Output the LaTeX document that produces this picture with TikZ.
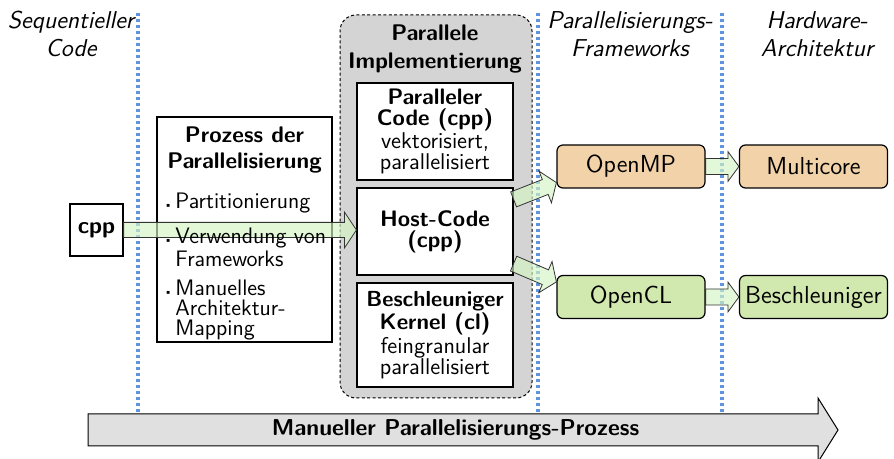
\documentclass[tikz,border=0pt]{standalone}
\usepackage{fontspec}
\usetikzlibrary{calc}
\definecolor{dotblue}{HTML}{5F95E0}
\definecolor{arrgreen}{HTML}{D3F5C3}
\definecolor{ompfill}{HTML}{F2D3A9}
\definecolor{oclfill}{HTML}{D1E8AE}
\definecolor{grpfill}{HTML}{D4D4D4}
\definecolor{bigfill}{HTML}{E0E0E0}
\newcommand\fatarrow[6][]{%
  \coordinate (fah) at ($(#3)!#6!(#2)$);
  \draw[fatarr,#1] ($(#2)!#4!90:(#3)$) -- ($(fah)!#4!90:(#3)$) -- ($(fah)!#5!90:(#3)$) -- (#3) -- ($(fah)!#5!-90:(#3)$) -- ($(fah)!#4!-90:(#3)$) -- ($(#2)!#4!-90:(#3)$) -- cycle;
}
\newcommand\rg{\fontsize{11.4}{10.5}\selectfont}
\newcommand\bd{\bfseries\fontsize{11.2}{10.5}\selectfont}
\tikzset{
  fatarr/.style={draw=black!80, line width=0.4pt, fill=arrgreen, fill opacity=0.65, line join=miter},
  sepline/.style={dotblue, line width=1.7pt, dash pattern=on 1.5pt off 1.5pt},
  collabel/.style={font=\sffamily\itshape\fontsize{12.2}{14}\selectfont, align=center},
  plainbox/.style={draw, line width=0.6pt, fill=white, inner sep=1pt, align=center, font=\sffamily\rg},
  fwbox/.style={draw, line width=0.6pt, rounded corners=3pt, inner sep=1pt, minimum width=74pt, minimum height=21.5pt, font=\sffamily\fontsize{12.3}{13}\selectfont},
  grpbox/.style={draw, line width=0.5pt, dash pattern=on 1.5pt off 1.2pt, fill=grpfill, rounded corners=8pt},
  itemtext/.style={anchor=north west, align=left, inner sep=0pt, font=\sffamily\fontsize{11.2}{10}\selectfont},
}
\begin{document}
\begin{tikzpicture}[x=0.5pt, y=-0.5pt]
\useasboundingbox (0,0) rectangle (894,459);
% separators
\coordinate (s1t) at (138,13); \coordinate (s1b) at (138,416);
\coordinate (s2t) at (538,13); \coordinate (s2b) at (538,416);
\coordinate (s3t) at (722,13); \coordinate (s3b) at (722,416);
\draw[sepline] (s1t) -- (s1b);
\draw[sepline] (s2t) -- (s2b);
\draw[sepline] (s3t) -- (s3b);
% column labels
\node[collabel] (lseq) at (71,34) {Sequentieller\\Code};
\node[collabel] (lfw) at (630,34) {Parallelisierungs-\\Frameworks};
\node[collabel] (lhw) at (817,34) {Hardware-\\Architektur};
% group
\node[grpbox, minimum width=96pt, minimum height=191.5pt] (grp) at (436,206.5) {};
\node[font=\sffamily\bfseries\fontsize{11.3}{14}\selectfont, align=center, anchor=north, inner sep=0pt] (grpt) at (435,24) {Parallele\\Implementierung};
% source
\node[plainbox, minimum width=26.5pt, minimum height=26pt, font=\sffamily\bfseries\fontsize{11.6}{12}\selectfont] (cpp) at (96.5,230) {cpp};
% process box
\node[plainbox, minimum width=87.5pt, minimum height=112.5pt] (proc) at (244.5,229.5) {};
\node[font=\sffamily\bfseries\fontsize{11.3}{13}\selectfont, align=center, anchor=north, inner sep=0pt] (proct) at (244.5,126) {Prozess der\\Parallelisierung};
% implementation parts
\node[plainbox, minimum width=78pt, minimum height=48.5pt] (par) at (435,131.5) {{\bd Paralleler}\\{\bd Code (cpp)}\\vektorisiert,\\parallelisiert};
\node[plainbox, minimum width=78pt, minimum height=43.5pt] (host) at (435,231.5) {{\bd Host-Code}\\{\bd (cpp)}};
\node[plainbox, minimum width=78pt, minimum height=52pt] (kern) at (435,335) {{\bfseries\fontsize{10.9}{10.5}\selectfont Beschleuniger}\\{\bd Kernel (cl)}\\feingranular\\parallelisiert};
% frameworks and hardware
\node[fwbox, fill=ompfill] (omp) at (631,166.5) {OpenMP};
\node[fwbox, fill=ompfill] (mc) at (813.5,166.5) {Multicore};
\node[fwbox, fill=oclfill] (ocl) at (631,297) {OpenCL};
\node[fwbox, fill=oclfill] (acc) at (813.5,297) {Beschleuniger};
% arrows
\coordinate (hostin) at (host.west |- cpp.east);
\fatarrow{cpp.east}{hostin}{3.8pt}{9pt}{6pt}
\coordinate (h1) at ($(host.north east)+(0,12)$);
\coordinate (o1) at ($(omp.south west)+(0,-6)$);
\fatarrow{h1}{o1}{4pt}{8.5pt}{6pt}
\coordinate (h2) at ($(host.south east)+(0,-12)$);
\coordinate (o2) at ($(ocl.north west)+(0,7)$);
\fatarrow{h2}{o2}{4pt}{8.5pt}{6pt}
\fatarrow{omp.east}{mc.west}{4pt}{7.5pt}{5.5pt}
\fatarrow{ocl.east}{acc.west}{4pt}{7.5pt}{5.5pt}
% process items (above the arrow)
\node[itemtext] (it1) at (175,193) {\llap{\tiny\textbullet\hspace{1.5pt}}Partitionierung};
\node[itemtext] (it2) at (175,228) {\llap{\tiny\textbullet\hspace{1.5pt}}Verwendung von\\Frameworks};
\node[itemtext] (it3) at (175,280) {\llap{\tiny\textbullet\hspace{1.5pt}}Manuelles\\Architektur-\\Mapping};
% bottom arrow
\coordinate (pa) at (88,430);
\coordinate (pb) at (838,430);
\fatarrow[fill=bigfill, fill opacity=1, draw=black, line width=0.5pt]{pa}{pb}{8pt}{16pt}{10pt}
\node[font=\sffamily\bfseries\fontsize{11.5}{12}\selectfont] (ptext) at ($(pa)!0.49!(pb)$) {Manueller Parallelisierungs-Prozess};
\end{tikzpicture}
\end{document}
